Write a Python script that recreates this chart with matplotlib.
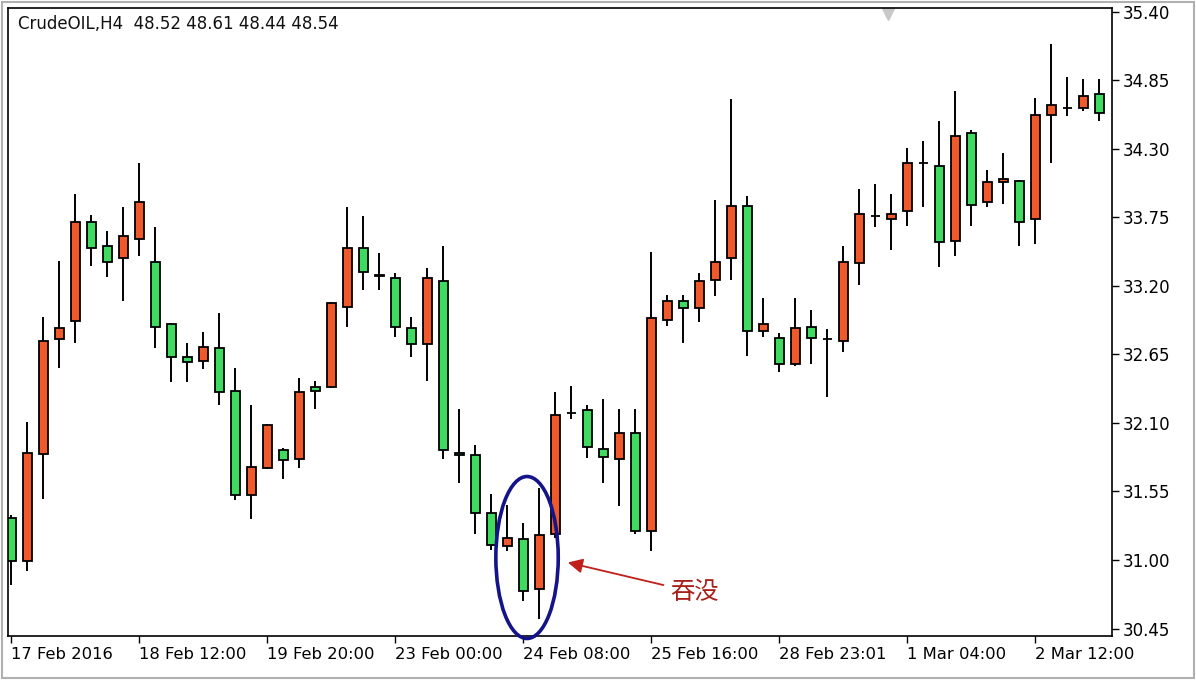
# candlestick chart of CrudeOIL H4 with an engulfing pattern marked

import numpy as np
import matplotlib.pyplot as plt
from matplotlib.patches import Ellipse, Rectangle

# one row per 4h bar
opens = [31.34, 30.99, 31.85, 32.77, 32.92, 33.71, 33.52, 33.42, 33.58, 33.39,
         32.89, 32.63, 32.60, 32.70, 32.36, 31.52, 31.74, 31.88, 31.81, 32.39,
         32.39, 33.03, 33.50, 33.29, 33.26, 32.86, 32.73, 33.24, 31.86, 31.84,
         31.38, 31.11, 31.17, 30.77, 31.21, 32.18, 32.20, 31.89, 31.81, 32.02,
         31.23, 32.93, 33.08, 33.02, 33.25, 33.42, 33.84, 32.84, 32.78, 32.57,
         32.87, 32.77, 32.76, 33.38, 33.76, 33.74, 33.80, 34.19, 34.16, 33.56,
         34.43, 33.87, 34.03, 34.04, 33.74, 34.57, 34.63, 34.63, 34.74]
highs = [31.36, 32.11, 32.95, 33.40, 33.94, 33.77, 33.64, 33.83, 34.19, 33.67,
         32.90, 32.74, 32.83, 32.98, 32.54, 32.24, 32.09, 31.90, 32.46, 32.44,
         33.07, 33.83, 33.76, 33.46, 33.30, 32.95, 33.34, 33.52, 32.21, 31.92,
         31.53, 31.44, 31.30, 31.58, 32.35, 32.40, 32.24, 32.29, 32.21, 32.21,
         33.47, 33.13, 33.13, 33.30, 33.89, 34.70, 33.92, 33.10, 32.82, 33.10,
         33.01, 32.85, 33.52, 33.98, 34.02, 33.94, 34.31, 34.36, 34.52, 34.76,
         34.45, 34.13, 34.27, 34.05, 34.71, 35.14, 34.88, 34.86, 34.86]
lows = [30.80, 30.91, 31.49, 32.54, 32.74, 33.36, 33.27, 33.08, 33.44, 32.70,
        32.43, 32.43, 32.53, 32.24, 31.48, 31.33, 31.73, 31.65, 31.74, 32.21,
        32.38, 32.87, 33.17, 33.17, 32.79, 32.63, 32.44, 31.81, 31.62, 31.21,
        31.08, 31.07, 30.67, 30.53, 31.18, 32.13, 31.82, 31.62, 31.43, 31.21,
        31.07, 32.88, 32.74, 32.91, 33.12, 33.25, 32.64, 32.79, 32.51, 32.56,
        32.57, 32.31, 32.67, 33.21, 33.67, 33.49, 33.68, 33.83, 33.35, 33.44,
        33.68, 33.83, 33.86, 33.52, 33.54, 34.19, 34.56, 34.60, 34.52]
closes = [30.99, 31.86, 32.76, 32.86, 33.71, 33.50, 33.39, 33.60, 33.87, 32.87,
          32.63, 32.59, 32.71, 32.35, 31.52, 31.75, 32.08, 31.80, 32.35, 32.36,
          33.06, 33.50, 33.31, 33.28, 32.87, 32.73, 33.26, 31.88, 31.84, 31.38,
          31.12, 31.18, 30.75, 31.20, 32.16, 32.18, 31.91, 31.83, 32.02, 31.23,
          32.94, 33.08, 33.02, 33.24, 33.39, 33.84, 32.84, 32.89, 32.57, 32.86,
          32.78, 32.77, 33.39, 33.78, 33.76, 33.78, 34.19, 34.19, 33.55, 34.40,
          33.85, 34.03, 34.06, 33.71, 34.57, 34.65, 34.63, 34.72, 34.59]

date_labels = ['17 Feb 2016', '18 Feb 12:00', '19 Feb 20:00', '23 Feb 00:00', '24 Feb 08:00',
               '25 Feb 16:00', '28 Feb 23:01', '1 Mar 04:00', '2 Mar 12:00']
label_every = 8
price_ticks = [30.45, 31.00, 31.55, 32.10, 32.65, 33.20, 33.75, 34.30, 34.85, 35.40]

up_color = '#f0592a'
down_color = '#3edb5e'

fig = plt.figure(figsize=(11.96, 6.8), dpi=100)
ax = fig.add_axes([8 / 1196, 44 / 680, 1104 / 1196, 628 / 680])

x = np.arange(len(opens))
o = np.array(opens)
c = np.array(closes)

# wicks
ax.vlines(x, lows, highs, color='black', lw=1.4, zorder=1)

# bodies (zero height bars come out as the doji dashes)
colors = [up_color if cc > oo else down_color for oo, cc in zip(o, c)]
ax.bar(x, np.abs(c - o), bottom=np.minimum(o, c), width=0.56,
       color=colors, edgecolor='black', linewidth=1.3, zorder=2)

ax.set_xlim(-0.19, 68.81)
ax.set_ylim(30.39, 35.43)

# price axis on the right like MT4
ax.yaxis.tick_right()
ax.set_yticks(price_ticks)
ax.set_yticklabels(['%.2f' % p for p in price_ticks])
ax.tick_params(axis='y', direction='out', length=5, width=1, labelsize=12, pad=3)

ax.set_xticks(x[::label_every])
ax.set_xticklabels(date_labels, ha='left')
ax.tick_params(axis='x', direction='out', length=5, width=1, labelsize=11.8, pad=3)

for sp in ax.spines.values():
    sp.set_color('black')
    sp.set_linewidth(1.2)

# header
ax.text(0.009, 0.974, 'CrudeOIL,H4  48.52 48.61 48.44 48.54', transform=ax.transAxes,
        fontsize=12, color='#111111', va='center', ha='left')

# MT4 chart-shift marker
ax.plot([0.797], [0.99], marker='v', color='#c8c8c8', markersize=8,
        transform=ax.transAxes, clip_on=False)

# engulfing pattern highlight
ell = Ellipse((32.25, 31.02), width=3.9, height=1.30, fill=False,
              edgecolor='#14148a', linewidth=2.6, zorder=3, clip_on=False)
ax.add_patch(ell)

ax.annotate('吞没', xy=(34.8, 30.98), xytext=(41.2, 30.74),
            fontsize=17.5, color='#a8201a', family=['Noto Sans CJK SC', 'DejaVu Sans'],
            va='center', ha='left',
            arrowprops=dict(arrowstyle='-|>', color='#c0201a', lw=1.3,
                            mutation_scale=22, shrinkA=3, shrinkB=0))

# light outer frame of the screenshot
fig.patches.append(Rectangle((0.002, 0.003), 0.996, 0.994, transform=fig.transFigure,
                             fill=False, edgecolor='#b0b0b0', linewidth=1.5))

fig.savefig('out.png', dpi=100)
